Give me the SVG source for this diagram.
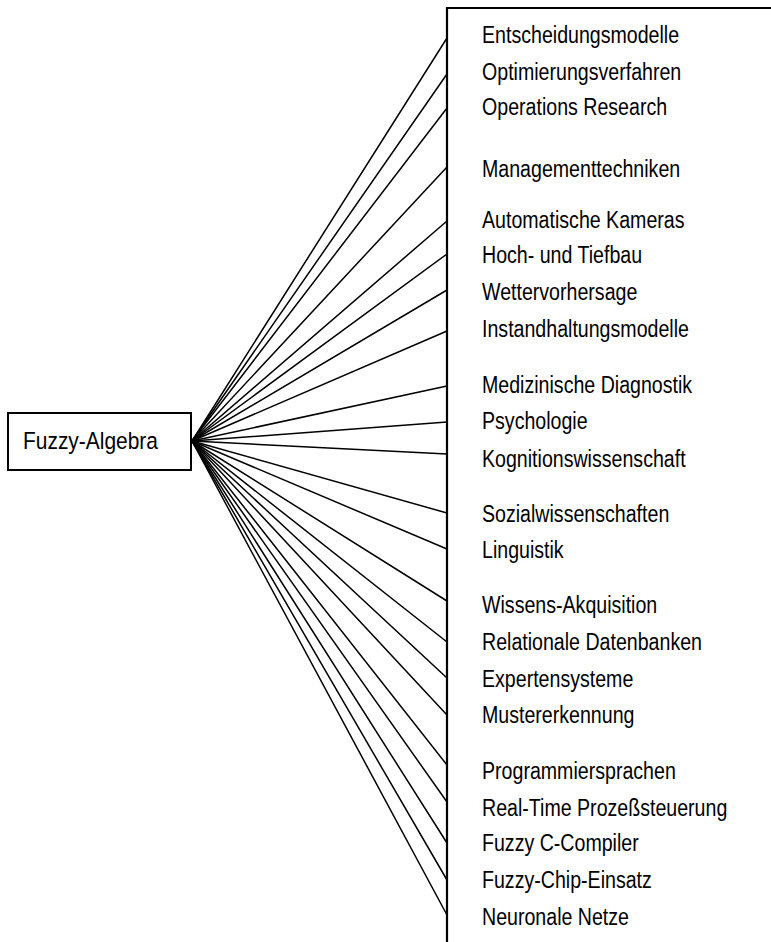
<svg xmlns="http://www.w3.org/2000/svg" width="771" height="942" viewBox="0 0 771 942">
<style>
.lbl{font-family:"Liberation Sans",Arial,sans-serif;font-size:24.5px;fill:#000}
.edge{stroke:#000;stroke-width:1.5;fill:none;stroke-linecap:round}
.frame{stroke:#000;stroke-width:2.2;fill:none}
</style>
<rect width="771" height="942" fill="#fff"/>
<g id="fuzzy-algebra">
<rect x="8" y="413" width="183" height="57" fill="#fff" stroke="#000" stroke-width="2"/>
<text class="lbl" transform="translate(23,448.5) scale(0.855,1)">Fuzzy-Algebra</text>
</g>
<g id="bracket">
<polyline class="frame" points="771,8 447,8 447,942"/>
</g>
<g id="connectors">
<line class="edge" x1="192" y1="441" x2="447" y2="38"/>
<line class="edge" x1="192" y1="441" x2="447" y2="74"/>
<line class="edge" x1="192" y1="441" x2="447" y2="108"/>
<line class="edge" x1="192" y1="441" x2="447" y2="167"/>
<line class="edge" x1="192" y1="441" x2="447" y2="221"/>
<line class="edge" x1="192" y1="441" x2="447" y2="254"/>
<line class="edge" x1="192" y1="441" x2="447" y2="290"/>
<line class="edge" x1="192" y1="441" x2="447" y2="331"/>
<line class="edge" x1="192" y1="441" x2="447" y2="386"/>
<line class="edge" x1="192" y1="441" x2="447" y2="422"/>
<line class="edge" x1="192" y1="441" x2="447" y2="454"/>
<line class="edge" x1="192" y1="441" x2="447" y2="513"/>
<line class="edge" x1="192" y1="441" x2="447" y2="549"/>
<line class="edge" x1="192" y1="441" x2="447" y2="601"/>
<line class="edge" x1="192" y1="441" x2="447" y2="642"/>
<line class="edge" x1="192" y1="441" x2="447" y2="678"/>
<line class="edge" x1="192" y1="441" x2="447" y2="715"/>
<line class="edge" x1="192" y1="441" x2="447" y2="765"/>
<line class="edge" x1="192" y1="441" x2="447" y2="802"/>
<line class="edge" x1="192" y1="441" x2="447" y2="843"/>
<line class="edge" x1="192" y1="441" x2="447" y2="880"/>
<line class="edge" x1="192" y1="441" x2="447" y2="915"/>
</g>
<g id="labels" transform="translate(482,0) scale(0.8,1)">
<g id="n1"><text class="lbl" x="0" y="43.5">Entscheidungsmodelle</text></g>
<g id="n2"><text class="lbl" x="0" y="80">Optimierungsverfahren</text></g>
<g id="n3"><text class="lbl" x="0" y="115">Operations Research</text></g>
<g id="n4"><text class="lbl" x="0" y="176.7">Managementtechniken</text></g>
<g id="n5"><text class="lbl" x="0" y="227.7">Automatische Kameras</text></g>
<g id="n6"><text class="lbl" x="0" y="263.3">Hoch- und Tiefbau</text></g>
<g id="n7"><text class="lbl" x="0" y="300">Wettervorhersage</text></g>
<g id="n8"><text class="lbl" x="0" y="336.7">Instandhaltungsmodelle</text></g>
<g id="n9"><text class="lbl" x="0" y="393.3">Medizinische Diagnostik</text></g>
<g id="n10"><text class="lbl" x="0" y="429.3">Psychologie</text></g>
<g id="n11"><text class="lbl" x="0" y="466.7">Kognitionswissenschaft</text></g>
<g id="n12"><text class="lbl" x="0" y="521.7">Sozialwissenschaften</text></g>
<g id="n13"><text class="lbl" x="0" y="558">Linguistik</text></g>
<g id="n14"><text class="lbl" x="0" y="613.3">Wissens-Akquisition</text></g>
<g id="n15"><text class="lbl" x="0" y="650">Relationale Datenbanken</text></g>
<g id="n16"><text class="lbl" x="0" y="686.7">Expertensysteme</text></g>
<g id="n17"><text class="lbl" x="0" y="723">Mustererkennung</text></g>
<g id="n18"><text class="lbl" x="0" y="779.3">Programmiersprachen</text></g>
<g id="n19"><text class="lbl" x="0" y="816">Real-Time Prozeßsteuerung</text></g>
<g id="n20"><text class="lbl" x="0" y="851">Fuzzy C-Compiler</text></g>
<g id="n21"><text class="lbl" x="0" y="888">Fuzzy-Chip-Einsatz</text></g>
<g id="n22"><text class="lbl" x="0" y="925">Neuronale Netze</text></g>
</g>
</svg>
